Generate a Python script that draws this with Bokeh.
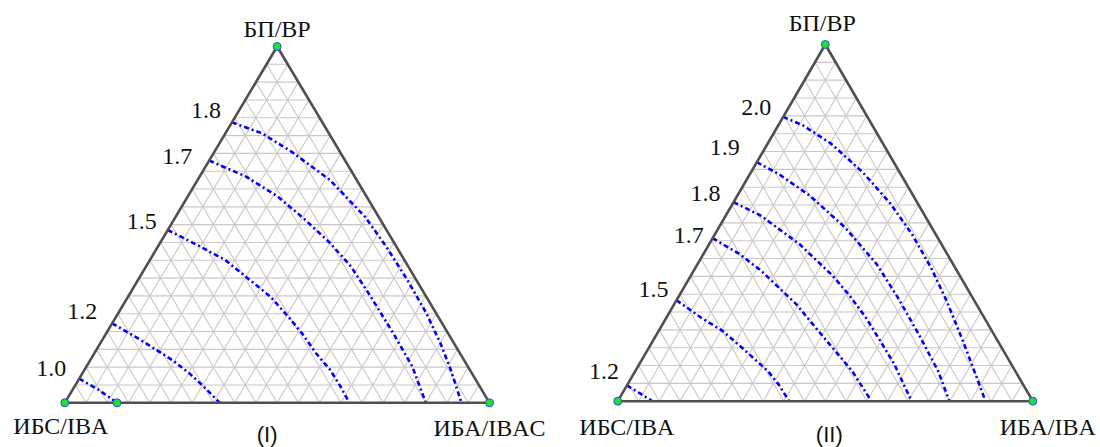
import math
from bokeh.plotting import figure
from bokeh.models import Range1d, ColumnDataSource
from bokeh.core.properties import value
from bokeh.embed import file_html
from bokeh.resources import INLINE

# ---------------- data (compositions in %, B = БП/ВР top vertex, C = right vertex) -------------
levels_I = ["1.8", "1.7", "1.5", "1.2", "1.0"]
top_I = [
    [78.7, 75.7, 70.5, 62.5, 52.2, 43.8, 34.5, 25.1, 16.7, 9.2, 0.0],
    [68.0, 63.5, 57.9, 51.3, 44.8, 38.2, 30.7, 19.5, 10.1, 0.0],
    [48.5, 44.3, 40.1, 34.5, 29.8, 24.2, 19.5, 13.9, 9.2, 4.5, 0.0],
    [22.3, 17.6, 12.0, 8.2, 4.5, 0.0],
    [6.8, 3.6, 0.0],
]
right_I = [
    [0.0, 8.5, 18.1, 31.2, 44.6, 53.8, 63.4, 72.6, 80.1, 86.3, 93.4],
    [0.0, 10.9, 21.2, 31.0, 40.1, 48.3, 56.2, 67.6, 76.8, 85.0],
    [0.0, 9.0, 17.7, 26.3, 33.5, 40.5, 46.1, 52.2, 57.9, 62.7, 67.0],
    [0.0, 9.1, 19.3, 25.3, 30.5, 36.5],
    [0.0, 6.2, 12.3],
]
levels_II = ["2.0", "1.9", "1.8", "1.7", "1.5", "1.2"]
top_II = [
    [79.7, 77.3, 72.2, 64.2, 55.3, 46.9, 37.5, 28.1, 16.9, 6.6, 0.0],
    [67.0, 63.7, 57.6, 48.7, 38.4, 29.1, 18.7, 8.4, 0.0],
    [55.8, 52.0, 44.0, 35.6, 30.0, 23.4, 16.9, 10.3, 0.0],
    [45.7, 41.2, 36.6, 27.2, 17.8, 8.4, 0.0],
    [28.3, 23.4, 19.7, 15.5, 8.4, 4.7, 0.0],
    [4.4, 2.1, 0.0],
]
right_II = [
    [0.0, 6.0, 15.3, 26.9, 38.1, 47.4, 56.7, 65.2, 74.7, 83.2, 88.6],
    [0.0, 6.9, 17.5, 30.4, 43.2, 52.9, 63.2, 73.0, 79.9],
    [0.0, 8.5, 21.8, 33.6, 40.6, 48.1, 54.8, 61.5, 70.8],
    [0.0, 8.8, 16.2, 29.4, 40.8, 52.3, 61.1],
    [0.0, 8.4, 15.4, 21.7, 32.0, 36.4, 41.3],
    [0.0, 4.4, 8.3],
]
vertex_names_I = ["ИБС/IBA", "БП/ВР", "ИБА/IBAC"]
vertex_names_II = ["ИБС/IBA", "БП/ВР", "ИБА/IBA"]
extra_points_top_I = [0.0]
extra_points_right_I = [12.3]
panel_titles = ["(I)", "(II)"]
grid_divisions = 20

# ---------------- layout -------------
PANELS = [
    dict(x0=64.3, x1=489.0, yb=402.3, yt=46.0,
         vlab_off=[(-4, 23), (0, -18), (0, 25)], title_off=(-10, 32),
         lab_off=[(-11, -12), (-17, -4), (-11, -8), (-15, -12), (-13, -10)]),
    dict(x0=617.3, x1=1032.3, yb=400.7, yt=44.0,
         vlab_off=[(9, 26), (-3, -22), (15, 26)], title_off=(4, 33),
         lab_off=[(-12, -9), (-17, -15), (-13, -9), (-9, -3), (-8, -11), (-8, -14)]),
]
SERIF = value("Liberation Serif, Times New Roman, serif")
SANS = value("Liberation Sans, Arial, sans-serif")


def to_xy(g, B, C):
    b = B / 100.0
    c = C / 100.0
    x = g["x0"] + (c + b / 2.0) * (g["x1"] - g["x0"])
    y = g["yb"] - b * (g["yb"] - g["yt"])
    return x, y


p = figure(width=1100, height=447, x_range=Range1d(0, 1100), y_range=Range1d(447, 0),
           output_backend="svg", toolbar_location=None,
           x_axis_location=None, y_axis_location=None, min_border=0)
p.grid.visible = False
p.outline_line_color = None
p.background_fill_color = "white"
p.border_fill_color = "white"

datasets = [
    (levels_I, top_I, right_I, vertex_names_I, extra_points_top_I, extra_points_right_I),
    (levels_II, top_II, right_II, vertex_names_II, [], []),
]

for g, (levels, tops, rights, vnames, ex_t, ex_r), title in zip(PANELS, datasets, panel_titles):
    # triangular grid
    gxs, gys = [], []
    n = grid_divisions
    for k in range(1, n):
        f = 100.0 * k / n
        segs = [((f, 0.0), (f, 100.0 - f)),
                ((0.0, f), (100.0 - f, f)),
                ((0.0, 100.0 - f), (100.0 - f, 0.0))]
        for (b1, c1), (b2, c2) in segs:
            xa, ya = to_xy(g, b1, c1)
            xb, yb_ = to_xy(g, b2, c2)
            gxs.append([xa, xb])
            gys.append([ya, yb_])
    p.multi_line(gxs, gys, line_color="#c8c8c8", line_width=1.1)

    # contours
    cxs, cys = [], []
    lx, ly = [], []
    for tb, rc, off in zip(tops, rights, g["lab_off"]):
        pts = [to_xy(g, b, c) for b, c in zip(tb, rc)]
        cxs.append([q[0] for q in pts])
        cys.append([q[1] for q in pts])
        lx.append(pts[0][0] + off[0])
        ly.append(pts[0][1] + off[1])
    p.multi_line(cxs, cys, line_color="#0000ff", line_width=2.6, line_dash="5 3 2 3")

    # triangle edges
    corners = [to_xy(g, 0, 0), to_xy(g, 0, 100), to_xy(g, 100, 0)]
    ex = [corners[0][0], corners[1][0], corners[2][0], corners[0][0]]
    ey = [corners[0][1], corners[1][1], corners[2][1], corners[0][1]]
    p.line(ex, ey, line_color="#505050", line_width=2.6, line_join="round")

    # vertex markers
    mx = [corners[0][0], corners[2][0], corners[1][0]]
    my = [corners[0][1], corners[2][1], corners[1][1]]
    for b, c in zip(ex_t, ex_r):
        xx, yy = to_xy(g, b, c)
        mx.append(xx)
        my.append(yy)
    p.scatter(mx, my, size=8, fill_color="#22e02a", line_color="#2a4cff", line_width=1)

    # level labels
    p.text(lx, ly, text=levels, text_font=SERIF, text_font_size="24px",
           text_align="right", text_baseline="middle", text_color="#111111")

    # vertex labels: left, top, right
    vpos = [corners[0], to_xy(g, 100, 0), corners[1]]
    vx = [v[0] + o[0] for v, o in zip(vpos, g["vlab_off"])]
    vy = [v[1] + o[1] for v, o in zip(vpos, g["vlab_off"])]
    p.text(vx, vy, text=[vnames[0], vnames[1], vnames[2]], text_font=SERIF,
           text_font_size="24px", text_align="center", text_baseline="middle",
           text_color="#111111")

    # panel title
    mid = to_xy(g, 0, 50)
    p.text([mid[0] + g["title_off"][0]], [mid[1] + g["title_off"][1]], text=[title],
           text_font=SANS, text_font_size="22px", text_align="center",
           text_baseline="middle", text_color="#111111")

open("out.html", "w").write(file_html(p, INLINE))
